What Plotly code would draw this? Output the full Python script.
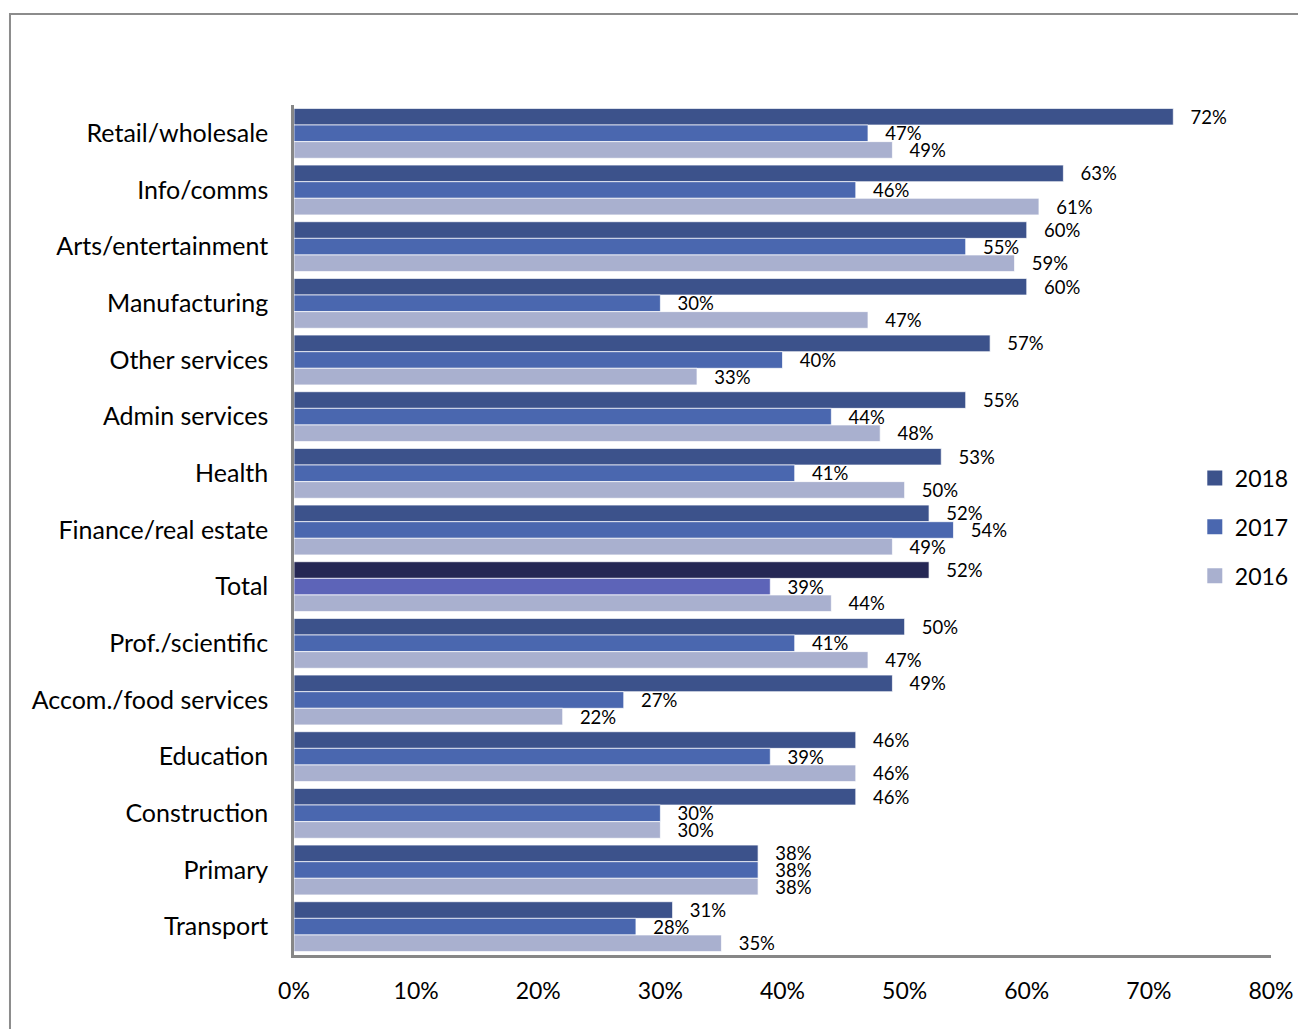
import plotly.graph_objects as go

categories = [
    "Retail/wholesale", "Info/comms", "Arts/entertainment", "Manufacturing",
    "Other services", "Admin services", "Health", "Finance/real estate",
    "Total", "Prof./scientific", "Accom./food services", "Education",
    "Construction", "Primary", "Transport",
]
share_2018 = [72, 63, 60, 60, 57, 55, 53, 52, 52, 50, 49, 46, 46, 38, 31]
share_2017 = [47, 46, 55, 30, 40, 44, 41, 54, 39, 41, 27, 39, 30, 38, 28]
share_2016 = [49, 61, 59, 47, 33, 48, 50, 49, 44, 47, 22, 46, 30, 38, 35]
x_ticks = [0, 10, 20, 30, 40, 50, 60, 70, 80]

series = [
    ("2018", share_2018, "#3C528B", "#252754"),
    ("2017", share_2017, "#4A67AF", "#5D64B8"),
    ("2016", share_2016, "#A9B0CF", "#A9B0CF"),
]

FONT = "Lato"

fig = go.Figure()
for name, vals, color, total_color in series:
    colors = [total_color if c == "Total" else color for c in categories]
    fig.add_trace(go.Bar(
        name=name,
        y=categories,
        x=[v / 100 for v in vals],
        orientation="h",
        marker=dict(color=colors, line=dict(color="rgba(255,255,255,0.7)", width=1)),
        text=[f"   {v}%" for v in vals],
        textposition="outside",
        constraintext="none",
        cliponaxis=False,
        textfont=dict(family=FONT, size=18.5, color="#000000"),
        showlegend=False,
    ))

# legend entries with larger square swatches
for name, _, color, _ in series:
    fig.add_trace(go.Scatter(
        x=[None], y=[None], mode="markers", name=name,
        marker=dict(symbol="square", size=15, color=color),
        legendgroup=name,
    ))

fig.update_layout(
    width=1298,
    height=1029,
    margin=dict(l=294, r=27, t=105, b=74, autoexpand=False),
    paper_bgcolor="white",
    plot_bgcolor="white",
    barmode="group",
    bargap=0.12,
    bargroupgap=0,
    font=dict(family=FONT, color="#000000"),
    legend=dict(
        x=0.922, y=0.5865, xanchor="left", yanchor="top",
        font=dict(family=FONT, size=23),
        traceorder="grouped",
        tracegroupgap=16,
        bgcolor="rgba(0,0,0,0)",
        itemwidth=30,
    ),
    xaxis=dict(
        range=[0, 0.8],
        tickvals=[t / 100 for t in x_ticks],
        ticktext=[f"{t}%" for t in x_ticks],
        showgrid=False,
        zeroline=False,
        showline=True,
        linecolor="#878787",
        linewidth=2.5,
        ticks="",
        ticklabelstandoff=14,
        tickfont=dict(family=FONT, size=23),
    ),
    yaxis=dict(
        autorange="reversed",
        showgrid=False,
        showline=True,
        linecolor="#878787",
        linewidth=2.5,
        ticks="",
        ticklabelstandoff=18,
        tickfont=dict(family=FONT, size=25),
    ),
    shapes=[
        dict(type="rect", xref="paper", yref="paper",
             x0=-0.2907, x1=1.2, y0=-0.3, y1=1.107,
             line=dict(color="#8C8C8C", width=2), layer="below"),
    ],
)

fig.write_html("out.html")
